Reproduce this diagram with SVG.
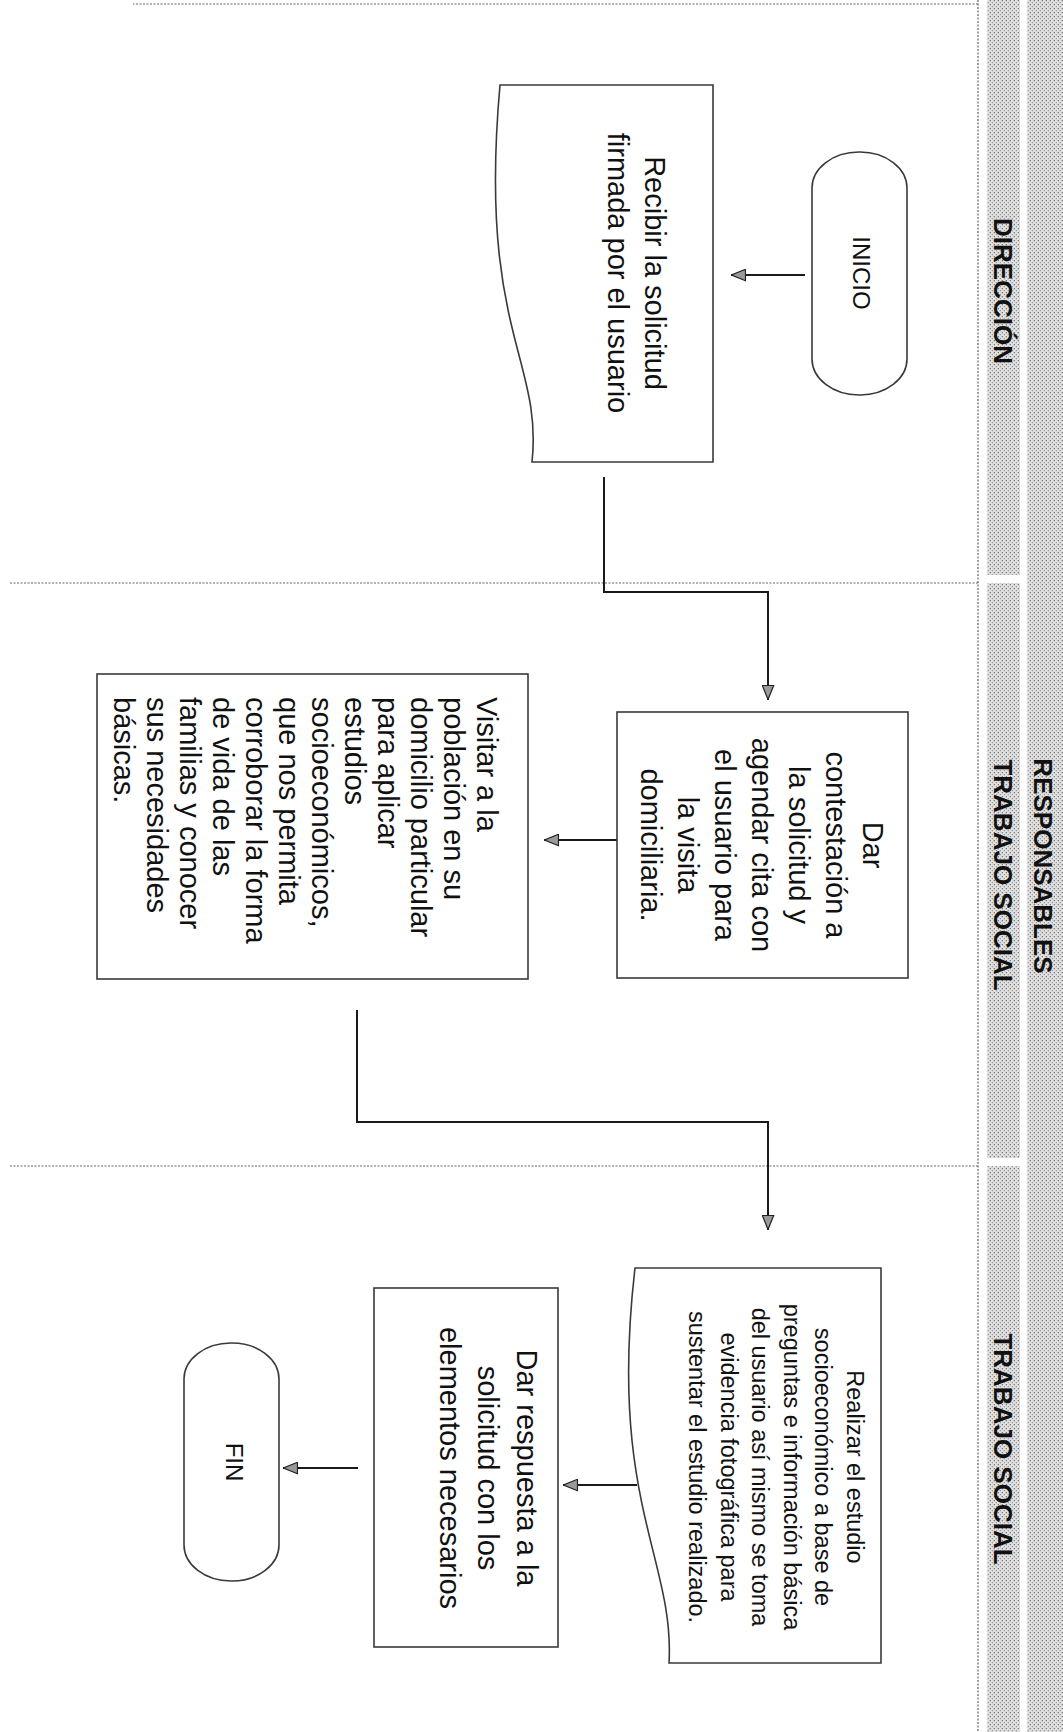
<svg xmlns="http://www.w3.org/2000/svg" width="1063" height="1732" viewBox="0 0 1063 1732">
<defs>
<style>
.node{fill:#fff;stroke:#3a3a3a;stroke-width:1.6}
.t{font-family:"Liberation Sans",Arial,sans-serif;fill:#111;text-anchor:middle}
.f29{font-size:29px}
.f24{font-size:24px}
.f23{font-size:23.5px}
.left{text-anchor:start}
.conn{fill:none;stroke:#1a1a1a;stroke-width:2}
.arr{marker-end:url(#ah)}
.sep{fill:none;stroke:#666;stroke-width:1.2;stroke-dasharray:2 1.5}
.hdr{font-family:"Liberation Sans",Arial,sans-serif;font-weight:bold;font-size:26px;fill:#111;text-anchor:middle}
.band{fill:url(#ht)}
</style>
<pattern id="ht" width="4" height="4" patternUnits="userSpaceOnUse">
<rect width="4" height="4" fill="#e2e2e2"/>
<rect width="1.3" height="1.3" fill="#7a7a7a"/>
<rect x="2" y="2" width="1.3" height="1.3" fill="#9a9a9a"/>
</pattern>
<marker id="ah" markerWidth="15" markerHeight="13" refX="15" refY="6.5" orient="auto" markerUnits="userSpaceOnUse">
<path d="M0.5,0.8 L14.5,6.5 L0.5,12.2 Z" fill="#9a9a9a" stroke="#222" stroke-width="1.2"/>
</marker>
</defs>
<rect width="1063" height="1732" fill="#fff"/>
<g transform="translate(1063 0) rotate(90)">
  <g id="header">
    <rect class="band" x="0" y="0" width="1732" height="36"/>
    <rect class="band" x="0" y="43" width="575" height="33"/>
    <rect class="band" x="583" y="43" width="575" height="33"/>
    <rect class="band" x="1166" y="43" width="566" height="33"/>
    <line class="sep" x1="0" y1="85" x2="1732" y2="85"/>
    <text class="hdr" x="866" y="29">RESPONSABLES</text>
    <text class="hdr" x="291" y="69.5">DIRECCIÓN</text>
    <text class="hdr" x="875" y="69.5">TRABAJO SOCIAL</text>
    <text class="hdr" x="1449" y="69.5">TRABAJO SOCIAL</text>
  </g>
  <g id="lanes">
    <line class="sep" x1="4" y1="85" x2="4" y2="930"/>
    <line class="sep" x1="583" y1="85" x2="583" y2="1053"/>
    <line class="sep" x1="1166" y1="85" x2="1166" y2="1053"/>
  </g>
  <g id="connectors">
    <line class="conn arr" x1="275" y1="258" x2="275" y2="332"/>
    <polyline class="conn arr" points="477,459 592,459 592,295 700,295"/>
    <line class="conn arr" x1="840" y1="446" x2="840" y2="519"/>
    <polyline class="conn arr" points="1010,706 1122,706 1122,295 1230,295"/>
    <line class="conn arr" x1="1485" y1="426" x2="1485" y2="500"/>
    <line class="conn arr" x1="1468" y1="705" x2="1468" y2="780"/>
  </g>
  <g id="inicio">
    <rect class="node" x="152" y="156" width="243" height="95" rx="36" ry="47"/>
    <text class="t f24" x="273" y="210">INICIO</text>
  </g>
  <g id="recibir">
    <path class="node" d="M85,350 L462,350 L462,531 C360,520 330,585 85,563 Z"/>
    <text class="t f29" x="273" y="418">Recibir la solicitud</text>
    <text class="t f29" x="273" y="455">firmada por el usuario</text>
  </g>
  <g id="contestacion">
    <rect class="node" x="712" y="155" width="266" height="291"/>
    <text class="t f29" x="845" y="200">Dar</text>
    <text class="t f29" x="845" y="237">contestación a</text>
    <text class="t f29" x="845" y="274">la solicitud y</text>
    <text class="t f29" x="845" y="311">agendar cita con</text>
    <text class="t f29" x="845" y="348">el usuario para</text>
    <text class="t f29" x="845" y="385">la visita</text>
    <text class="t f29" x="845" y="422">domiciliaria.</text>
  </g>
  <g id="visitar">
    <rect class="node" x="674" y="535" width="305" height="431"/>
    <text class="t f29 left" x="697" y="586">Visitar a la</text>
    <text class="t f29 left" x="697" y="619">población en su</text>
    <text class="t f29 left" x="697" y="652">domicilio particular</text>
    <text class="t f29 left" x="697" y="685">para aplicar</text>
    <text class="t f29 left" x="697" y="718">estudios</text>
    <text class="t f29 left" x="697" y="751">socioeconómicos,</text>
    <text class="t f29 left" x="697" y="784">que nos permita</text>
    <text class="t f29 left" x="697" y="817">corroborar la forma</text>
    <text class="t f29 left" x="697" y="850">de vida de las</text>
    <text class="t f29 left" x="697" y="883">familias y conocer</text>
    <text class="t f29 left" x="697" y="916">sus necesidades</text>
    <text class="t f29 left" x="697" y="949">básicas.</text>
  </g>
  <g id="realizar">
    <path class="node" d="M1268,182 L1663,182 L1663,394 C1560,388 1500,455 1268,428 Z"/>
    <text class="t f23" x="1467" y="216">Realizar el estudio</text>
    <text class="t f23" x="1467" y="248">socioeconómico a base de</text>
    <text class="t f23" x="1467" y="279">preguntas e información básica</text>
    <text class="t f23" x="1467" y="311">del usuario así mismo se toma</text>
    <text class="t f23" x="1467" y="342">evidencia fotográfica para</text>
    <text class="t f23" x="1467" y="374">sustentar el estudio realizado.</text>
  </g>
  <g id="respuesta">
    <rect class="node" x="1288" y="505" width="359" height="184"/>
    <text class="t f29" x="1468" y="546">Dar respuesta a la</text>
    <text class="t f29" x="1468" y="585">solicitud con los</text>
    <text class="t f29" x="1468" y="623">elementos necesarios</text>
  </g>
  <g id="fin">
    <rect class="node" x="1343" y="784" width="238" height="95" rx="36" ry="47"/>
    <text class="t f24" x="1462" y="837">FIN</text>
  </g>
</g>
</svg>
